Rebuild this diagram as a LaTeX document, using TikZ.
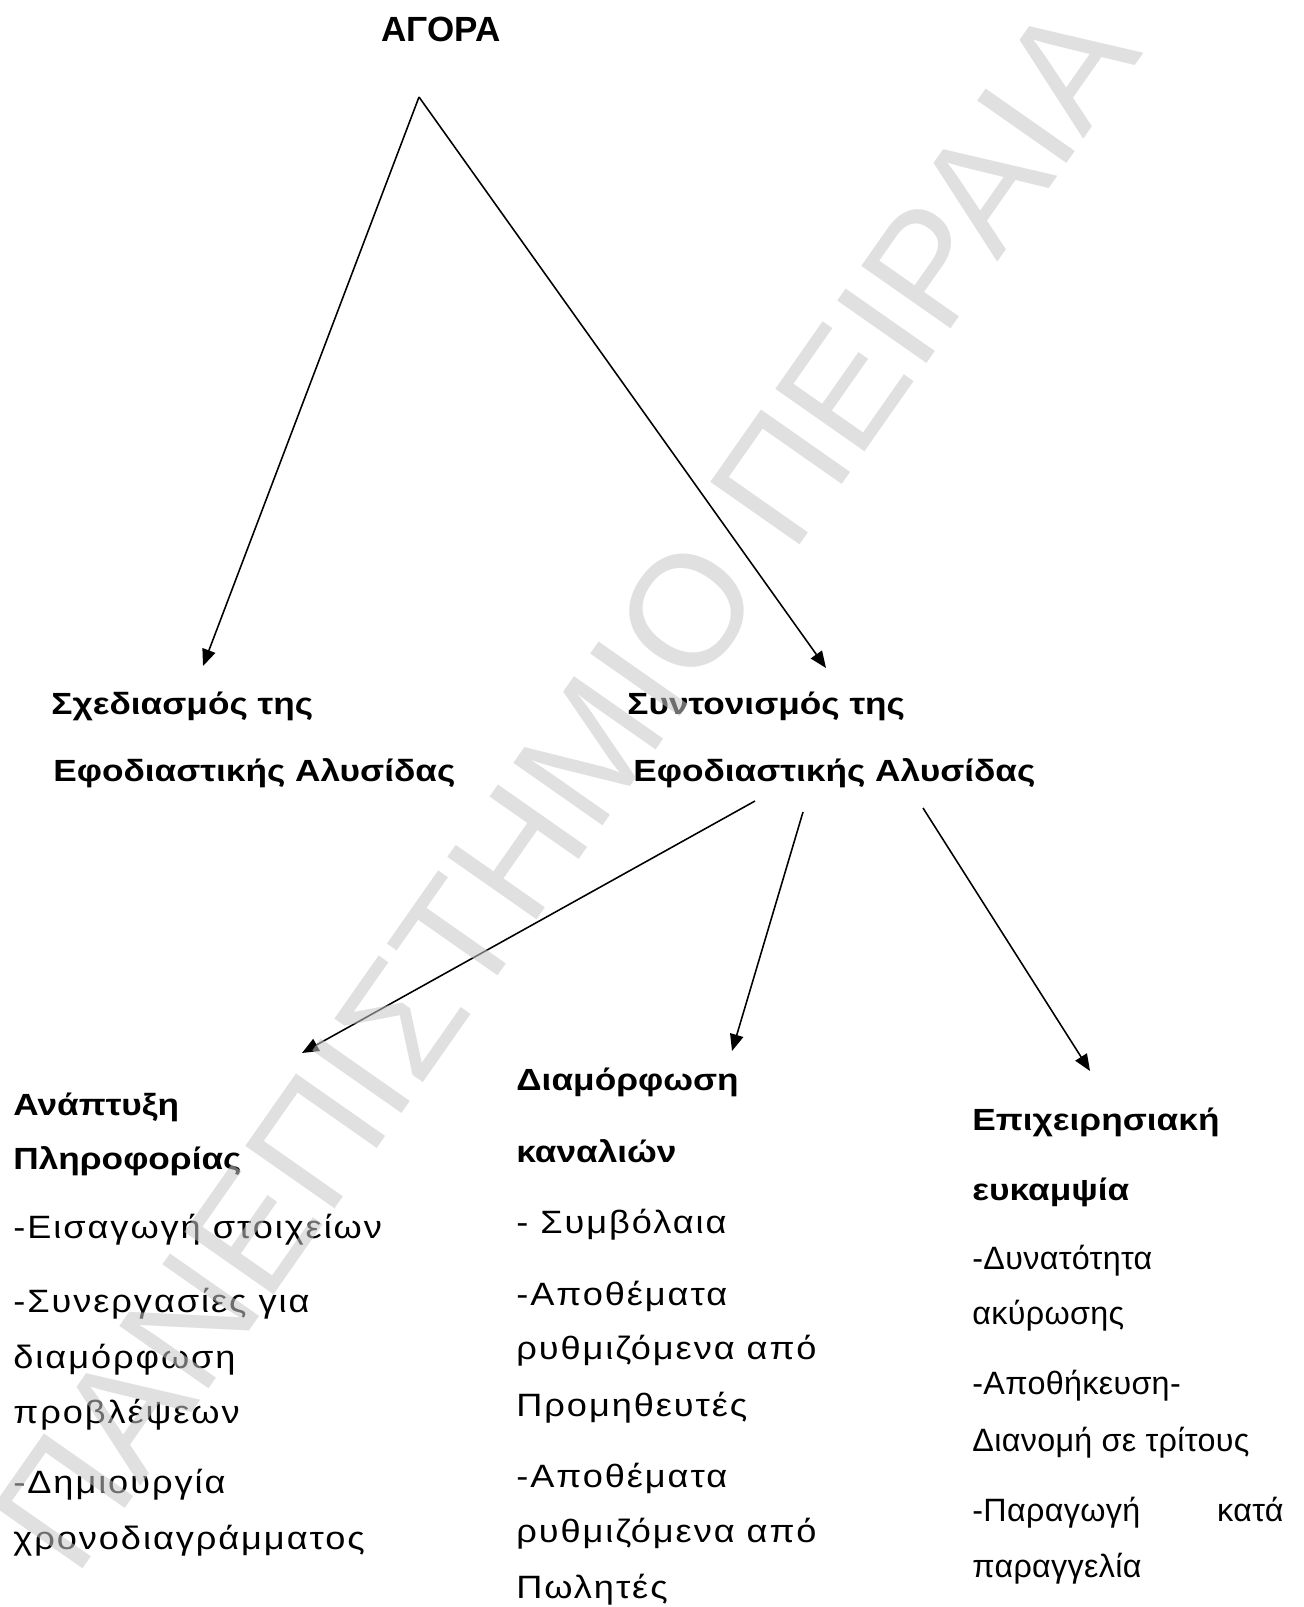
\documentclass[tikz,border=0pt]{standalone}
\usepackage{fontspec}
\setmainfont{Liberation Sans}
\newfontfamily\headfont[FakeStretch=1.15]{Liberation Sans}
\newfontfamily\bodyfont[FakeStretch=1.12,LetterSpace=6]{Liberation Sans}
\newfontfamily\narrowfont[LetterSpace=1]{Liberation Sans}
\usetikzlibrary{
  arrows.meta,
  positioning
}
\definecolor{wmgray}{gray}{0.78}

\begin{document}
\begin{tikzpicture}[
      x=0.48pt, y=-0.48pt,
      title/.style={
         inner sep=0pt,
         anchor=base,
         font=\fontsize{16.8}{18}\selectfont\bfseries
      },
      head/.style={
         inner sep=0pt,
         anchor=base west,
         font=\headfont\fontsize{14.7}{17}\selectfont\bfseries
      },
      item/.style={
         inner sep=0pt,
         anchor=base west,
         font=\bodyfont\fontsize{15.5}{17}\selectfont
      },
      narrow item/.style={
         item,
         font=\narrowfont\fontsize{15.5}{17}\selectfont
      },
      watermark/.style={
         inner sep=0pt,
         anchor=base west,
         rotate=55,
         text=wmgray,
         text opacity=0.55,
         font=\fontsize{76}{80}\selectfont
      },
      arr/.style={-{Triangle[length=8pt,width=6.5pt]},line width=0.75pt}
    ]
    \useasboundingbox (0,0) rectangle (1303,1607);

    \node (agora) [title] at (441,42) {ΑΓΟΡΑ};

    \node (plan1) [head] at (51,714) {Σχεδιασμός της};
    \node (plan2) [head] at (53,781) {Εφοδιαστικής Αλυσίδας};
    \node (coord1) [head] at (627,714) {Συντονισμός της};
    \node (coord2) [head] at (633,781) {Εφοδιαστικής Αλυσίδας};

    % left column
    \node (info1) [head] at (13,1115) {Ανάπτυξη};
    \node (info2) [head] at (13,1169) {Πληροφορίας};
    \foreach \y/\t [count=\i] in {1238/-Εισαγωγή στοιχείων, 1312/-Συνεργασίες για,
        1368/διαμόρφωση, 1423/προβλέψεων, 1493/-Δημιουργία, 1549/χρονοδιαγράμματος}
      \node (infoitem\i) [item] at (13,\y) {\t};

    % middle column
    \node (chan1) [head] at (516,1090) {Διαμόρφωση};
    \node (chan2) [head] at (516,1162) {καναλιών};
    \foreach \y/\t [count=\i] in {1233/- Συμβόλαια, 1305/-Αποθέματα, 1359/ρυθμιζόμενα από,
        1416/Προμηθευτές, 1487/-Αποθέματα, 1542/ρυθμιζόμενα από, 1598/Πωλητές}
      \node (chanitem\i) [item] at (516,\y) {\t};

    % right column
    \node (flex1) [head] at (972,1130) {Επιχειρησιακή};
    \node (flex2) [head] at (972,1200) {ευκαμψία};
    \foreach \y/\t [count=\i] in {1269/-Δυνατότητα, 1324/ακύρωσης, 1394/-Αποθήκευση-,
        1451/Διανομή σε τρίτους, 1521/-Παραγωγή, 1577/παραγγελία}
      \node (flexitem\i) [narrow item] at (972,\y) {\t};
    \node (flexkata) [narrow item,anchor=base east] at (1284,1521) {κατά};

    % connectors
    \coordinate (apex) at (419,97);
    \coordinate (planTip) at (203,666);
    \coordinate (coordTip) at (826,668);
    \coordinate (outA) at (755,801);
    \coordinate (outB) at (803,812);
    \coordinate (outC) at (923,808);
    \coordinate (infoTip) at (302,1053);
    \coordinate (chanTip) at (732,1051);
    \coordinate (flexTip) at (1090,1071);

    \draw[arr] (apex) -- (planTip);
    \draw[arr] (apex) -- (coordTip);
    \draw[arr] (outA) -- (infoTip);
    \draw[arr] (outB) -- (chanTip);
    \draw[arr] (outC) -- (flexTip);

    \node (wm) [watermark] at (75,1580) {ΠΑΝΕΠΙΣΤΗΜΙΟ ΠΕΙΡΑΙΑ};
\end{tikzpicture}
\end{document}
